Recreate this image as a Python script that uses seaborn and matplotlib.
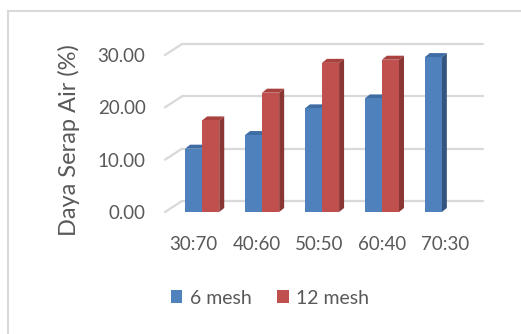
import numpy as np
import pandas as pd
import seaborn as sns
import matplotlib.pyplot as plt
import matplotlib.transforms as mtransforms
from matplotlib.patches import Polygon
from matplotlib.lines import Line2D

# Water absorption per blend ratio and particle size
ratios = ["30:70", "40:60", "50:50", "60:40", "70:30"]
mesh6 = [12.1, 14.7, 19.8, 21.7, 29.6]
mesh12 = [17.5, 22.8, 28.5, 29.1, np.nan]
series_names = ["6 mesh", "12 mesh"]
yticks = [0, 10, 20, 30]

front_colors = ["#4F81BD", "#C0504D"]
top_colors = ["#3F6CA3", "#A9413E"]
side_colors = ["#34557F", "#8A3634"]

df = pd.DataFrame({
    "ratio": ratios * 2,
    "value": mesh6 + mesh12,
    "series": [series_names[0]] * len(ratios) + [series_names[1]] * len(ratios),
})

sns.set_theme(style="white")
plt.rcParams["font.family"] = ["Lato", "DejaVu Sans"]

W, H = 521, 334
fig = plt.figure(figsize=(W / 100, H / 100), dpi=100)

# axes placed in pixel terms: x from 165 to 479, y from 212 (0) to 55 (30)
left, right, bottom_px, top_px = 165, 479, 212, 55
ax = fig.add_axes([left / W, (H - bottom_px) / H, (right - left) / W, (bottom_px - top_px) / H])

sns.barplot(data=df, x="ratio", y="value", hue="series", palette=front_colors,
            width=0.57, errorbar=None, saturation=1, ax=ax, legend=False,
            linewidth=0, zorder=3)
ax.set_xlim(-0.62, 4.62)
ax.set_ylim(0, 30)

grid_color = "#D9D9D9"
to_px = ax.transData.transform

# back wall gridlines plus the diagonal floor/side-wall segments
wall = np.array([17, 11])
x_lo, x_hi = ax.get_xlim()
for v in yticks:
    p0 = to_px((x_lo, v))
    p_back0 = p0 + wall
    p_back1 = np.array([483.0, p_back0[1]])
    for a, b in ((p0, p_back0), (p_back0, p_back1)):
        ax.add_line(Line2D([a[0], b[0]], [a[1], b[1]], color=grid_color, lw=1.6,
                           transform=mtransforms.IdentityTransform(),
                           clip_on=False, zorder=1))

# depth faces behind each bar's front face
bar_d = np.array([5, 4])
blue_rgb = tuple(int(front_colors[0][k:k + 2], 16) / 255 for k in (1, 3, 5))
for patch in ax.patches:
    h = patch.get_height()
    if not np.isfinite(h) or h == 0:
        continue
    s = 0 if np.allclose(patch.get_facecolor()[:3], blue_rgb) else 1
    x0, y0 = patch.get_x(), patch.get_y()
    x1, y1 = x0 + patch.get_width(), y0 + h
    bl, br, tl, tr = to_px((x0, y0)), to_px((x1, y0)), to_px((x0, y1)), to_px((x1, y1))
    top = [tl, tr, tr + bar_d, tl + bar_d]
    side = [br, tr, tr + bar_d, br + bar_d]
    for pts, col in ((side, side_colors[s]), (top, top_colors[s])):
        ax.add_patch(Polygon(pts, closed=True, facecolor=col, edgecolor="none",
                             transform=mtransforms.IdentityTransform(),
                             clip_on=False, zorder=2.5))

for sp in ax.spines.values():
    sp.set_visible(False)
ax.set_yticks(yticks)
ax.set_yticklabels([f"{v:.2f}" for v in yticks])
ax.set_xticks([-0.142 + 1.05 * i for i in range(len(ratios))])
ax.set_xticklabels(ratios)
ax.tick_params(axis="y", length=0, pad=14, labelsize=13.5, labelcolor="#595959")
ax.tick_params(axis="x", length=0, pad=17, labelsize=13.5, labelcolor="#595959")
ax.set_xlabel("")
ax.set_ylabel("Daya Serap Air (%)", fontsize=17, color="#595959")
ax.yaxis.set_label_coords((80 - left) / (right - left), (212 - 140) / (212 - 55))

handles = [plt.Rectangle((0, 0), 1, 1, facecolor=c, edgecolor="none") for c in front_colors]
fig.legend(handles, series_names, loc="center", bbox_to_anchor=(270 / W, 1 - 298 / H),
           ncol=2, frameon=False, fontsize=14, labelcolor="#595959",
           handlelength=0.6, handleheight=0.6, handletextpad=0.4, columnspacing=1.3)

# chart frame (top and left edges)
fig.add_artist(Line2D([8 / W, 8 / W], [0, 1 - 11 / H], color="#D9D9D9", lw=1.5,
                      transform=fig.transFigure))
fig.add_artist(Line2D([8 / W, 1], [1 - 11 / H, 1 - 11 / H], color="#D9D9D9", lw=1.5,
                      transform=fig.transFigure))

fig.savefig("out.png", dpi=100)
